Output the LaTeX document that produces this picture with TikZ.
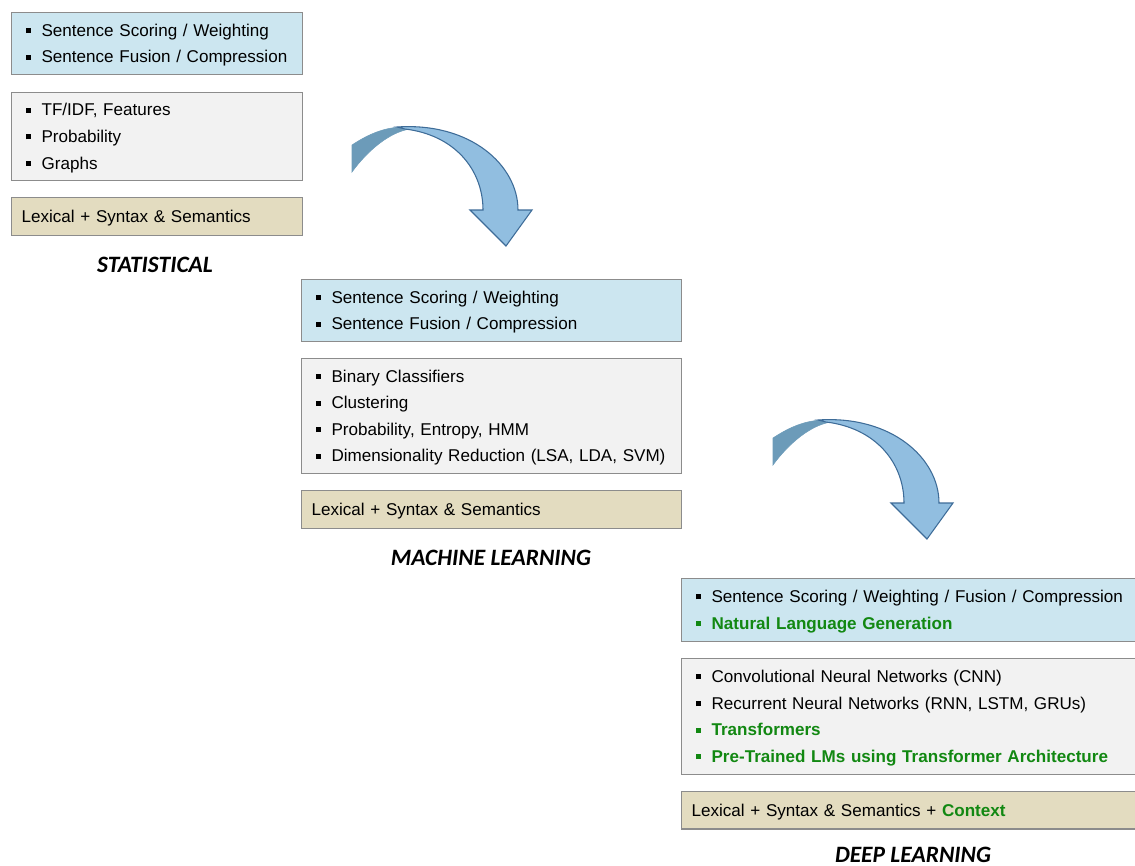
\documentclass[tikz,border=0pt]{standalone}
\usepackage{fontspec}
\setmainfont{Liberation Sans}
\newfontfamily\stagefont{Carlito}
\usepackage{xcolor}
\definecolor{boxblue}{RGB}{204,230,240}
\definecolor{boxgray}{RGB}{242,242,242}
\definecolor{boxtan}{RGB}{227,220,192}
\definecolor{boxline}{RGB}{140,140,140}
\definecolor{newgreen}{RGB}{18,136,18}
\definecolor{arrowlight}{RGB}{145,190,224}
\definecolor{arrowdark}{RGB}{108,155,185}
\definecolor{arrowline}{RGB}{62,108,152}
\newcommand{\bul}{\makebox[15pt][l]{\hspace{3pt}\rule[2.4pt]{3.75pt}{3.75pt}}}
\newcommand{\hl}[1]{\textcolor{newgreen}{\textbf{#1}}}
\newcommand{\ls}{\rule[-3.8pt]{0pt}{16.4pt}}

\begin{document}
\begin{tikzpicture}[x=0.75pt,y=-0.75pt]

    \tikzset{box/.style = {draw=boxline,line width=0.9pt,anchor=north west,
        inner xsep=7.5pt,inner ysep=0pt,align=left,
        font=\fontsize{12.8pt}{19.9pt}\selectfont}}
    \tikzset{smallbox/.style = {box,text width=203.25pt}}
    \tikzset{midbox/.style = {box,text width=270pt}}
    \tikzset{widebox/.style = {box,text width=330pt}}
    \tikzset{stagelabel/.style = {font=\stagefont\bfseries\itshape\fontsize{17.6pt}{19pt}\selectfont}}
    \tikzset{bend arrow/.pic = {
        \filldraw[fill=arrowdark,draw=arrowdark,line width=0.4pt]
            (0,27) -- (0,0) .. controls (18,-12) and (33,-17) .. (48,-18)
            -- (58,-16) .. controls (38,-13) and (16,5) .. (0,27) -- cycle;
        \filldraw[fill=arrowlight,draw=arrowline,line width=0.8pt]
            (45,-18) .. controls (118,-23) and (166,20) .. (166,65)
            -- (180,65) -- (154,101) -- (118,65) -- (131,65)
            .. controls (131,25) and (103,-10) .. (53,-16) -- cycle;
    }}
    \useasboundingbox (0,0) rectangle (1135,865);

    %statistical
    \node[smallbox,fill=boxblue,minimum height=46.5pt] (stat1) at (11,12)
        {\bul\ls Sentence Scoring / Weighting\\\bul\ls Sentence Fusion / Compression};
    \node[smallbox,fill=boxgray,minimum height=66pt] (stat2) at (11,92)
        {\bul\ls TF/IDF, Features\\\bul\ls Probability\\\bul\ls Graphs};
    \node[smallbox,fill=boxtan,minimum height=28.5pt] (stat3) at (11,197)
        {\ls Lexical + Syntax \& Semantics};
    \node[stagelabel] (statlabel) at (155,265) {STATISTICAL};

    %machine learning
    \node[midbox,fill=boxblue,minimum height=46.5pt] (ml1) at (301,279)
        {\bul\ls Sentence Scoring / Weighting\\\bul\ls Sentence Fusion / Compression};
    \node[midbox,fill=boxgray,minimum height=86.25pt] (ml2) at (301,358)
        {\bul\ls Binary Classifiers\\\bul\ls Clustering\\\bul\ls Probability, Entropy, HMM\\
         \bul\ls Dimensionality Reduction (LSA, LDA, SVM)};
    \node[midbox,fill=boxtan,minimum height=28.5pt] (ml3) at (301,490)
        {\ls Lexical + Syntax \& Semantics};
    \node[stagelabel] (mllabel) at (491,558) {MACHINE LEARNING};

    %deep learning
    \node[widebox,fill=boxblue,minimum height=47pt] (dl1) at (681,578)
        {\bul\ls Sentence Scoring / Weighting / Fusion / Compression\\
         \textcolor{newgreen}{\bul}\ls\hl{Natural Language Generation}};
    \node[widebox,fill=boxgray,minimum height=87pt] (dl2) at (681,658)
        {\bul\ls Convolutional Neural Networks (CNN)\\
         \bul\ls Recurrent Neural Networks (RNN, LSTM, GRUs)\\
         \textcolor{newgreen}{\bul}\ls\hl{Transformers}\\
         \textcolor{newgreen}{\bul}\ls\hl{Pre-Trained LMs using Transformer Architecture}};
    \node[widebox,fill=boxtan,minimum height=28pt] (dl3) at (681,791)
        {\ls Lexical + Syntax \& Semantics + \hl{Context}};
    \node[stagelabel] (dllabel) at (913,855) {DEEP LEARNING};

    %arrows
    \pic at (352,145) {bend arrow};
    \pic at (773,438) {bend arrow};
\end{tikzpicture}
\end{document}
